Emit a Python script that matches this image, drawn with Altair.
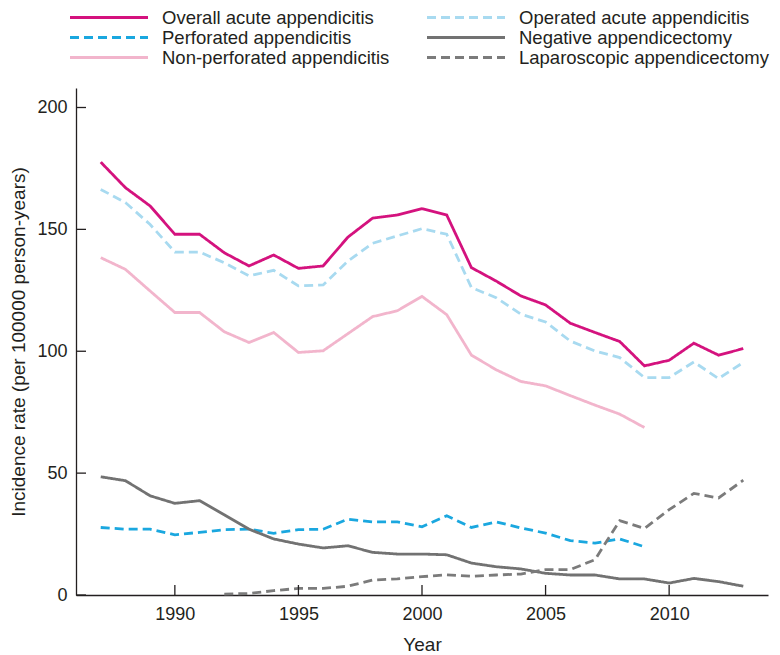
import altair as alt
import pandas as pd

years = list(range(1987, 2014))
overall = [177.6, 167.1, 159.6, 148.0, 148.0, 140.4, 135.0, 139.5, 134.0, 135.0, 146.8, 154.6, 155.9,
           158.5, 155.9, 134.3, 128.8, 122.7, 119.0, 111.5, 107.7, 104.0, 94.0, 96.3, 103.3, 98.4, 101.1]
operated = [166.4, 161.0, 152.0, 140.7, 140.7, 136.3, 130.9, 133.2, 126.8, 127.2, 137.0, 144.3, 147.3,
            150.3, 148.0, 126.1, 122.0, 115.2, 112.0, 104.2, 100.1, 97.4, 89.2, 89.2, 95.6, 88.8, 95.4]
years_to_2009 = list(range(1987, 2010))
perforated = [27.7, 27.0, 27.0, 24.7, 25.7, 26.8, 27.0, 25.3, 26.8, 27.0, 31.1, 30.0, 30.0,
              28.0, 32.5, 27.7, 30.0, 27.5, 25.4, 22.3, 21.3, 23.0, 19.8]
nonperforated = [138.4, 133.6, 124.7, 115.9, 115.9, 108.0, 103.6, 107.7, 99.5, 100.2, 107.2, 114.2, 116.6,
                 122.5, 115.0, 98.4, 92.4, 87.6, 85.8, 81.8, 77.9, 74.2, 68.7]
negative = [48.5, 46.9, 40.7, 37.6, 38.7, 32.9, 27.0, 23.0, 20.9, 19.3, 20.2, 17.5, 16.8,
            16.8, 16.5, 13.1, 11.6, 10.7, 8.9, 8.2, 8.2, 6.6, 6.6, 4.9, 6.8, 5.5, 3.6]
years_from_1992 = list(range(1992, 2014))
laparoscopic = [0.4, 0.6, 1.8, 2.7, 2.7, 3.6, 6.1, 6.6, 7.5, 8.3, 7.7, 8.2, 8.6,
                10.4, 10.4, 14.5, 30.5, 27.3, 35.0, 41.7, 39.8, 47.1]

# legend order (filled column by column)
series_names = ["Overall acute appendicitis", "Perforated appendicitis",
                "Non-perforated appendicitis", "Operated acute appendicitis",
                "Negative appendicectomy", "Laparoscopic appendicectomy"]
series_colors = ["#d4127e", "#1aa7df", "#f2b5cc", "#a8daf0", "#727272", "#7b7b7b"]
series_dashes = [[1, 0], [9, 5], [1, 0], [9, 5], [1, 0], [9, 5]]

x_ticks = [1990, 1995, 2000, 2005, 2010]
y_ticks = [0, 50, 100, 150, 200]

rows = []
for name, xs, vals in [
    ("Overall acute appendicitis", years, overall),
    ("Operated acute appendicitis", years, operated),
    ("Perforated appendicitis", years_to_2009, perforated),
    ("Negative appendicectomy", years, negative),
    ("Non-perforated appendicitis", years_to_2009, nonperforated),
    ("Laparoscopic appendicectomy", years_from_1992, laparoscopic),
]:
    for yr, v in zip(xs, vals):
        rows.append({"Year": yr, "Rate": v, "Series": name})
df = pd.DataFrame(rows)

FONT = "Liberation Sans"
W, H = 692, 507

xscale = alt.Scale(domain=[1986, 2014], nice=False, zero=False)
yscale = alt.Scale(domain=[0, 208], nice=False)
x_axis = alt.Axis(title="Year", values=x_ticks, format="d", ticks=False,
                  labelPadding=10, titlePadding=12)
y_axis = alt.Axis(title="Incidence rate (per 100000 person-years)", values=y_ticks,
                  ticks=False, labelPadding=9, titlePadding=8)

lines = alt.Chart(df).mark_line(strokeWidth=2.8).encode(
    x=alt.X("Year:Q", scale=xscale, axis=x_axis),
    y=alt.Y("Rate:Q", scale=yscale, axis=y_axis),
    color=alt.Color("Series:N", scale=alt.Scale(domain=series_names, range=series_colors),
                    legend=alt.Legend(title=None)),
    strokeDash=alt.StrokeDash("Series:N", scale=alt.Scale(domain=series_names, range=series_dashes),
                              legend=alt.Legend(title=None)),
)

xtick_df = pd.DataFrame({"Year": x_ticks})
ytick_df = pd.DataFrame({"Rate": y_ticks})

xticks = alt.Chart(xtick_df).mark_rule(color="#231f20", strokeWidth=1.3).encode(
    x=alt.X("Year:Q", scale=xscale, axis=x_axis),
    y=alt.value(H), y2=alt.value(H - 10),
)
yticks = alt.Chart(ytick_df).mark_rule(color="#231f20", strokeWidth=1.3).encode(
    y=alt.Y("Rate:Q", scale=yscale, axis=y_axis),
    x=alt.value(0), x2=alt.value(10),
)

chart = alt.layer(lines, xticks, yticks).properties(
    width=W, height=H,
    autosize=alt.AutoSizeParams(type="none"),
    padding={"left": 68, "top": 80, "right": 4, "bottom": 58},
).configure_view(stroke=None).configure_axis(
    grid=False, domainColor="#231f20", domainWidth=1.3,
    labelFont=FONT, labelFontSize=18, labelColor="#231f20",
    titleFont=FONT, titleFontSize=19, titleColor="#231f20", titleFontWeight="normal",
).configure_legend(
    orient="none", legendX=-6, legendY=-80, columns=2, padding=0,
    symbolType="M-4.875,0H4.875", symbolSize=256, symbolOffset=29.5, symbolStrokeWidth=3,
    labelOffset=43.5, columnPadding=31, rowPadding=1,
    labelFont=FONT, labelFontSize=18.5, labelColor="#231f20", labelLimit=400,
)

chart.save("out.html", embed_options={"renderer": "svg", "actions": False})
